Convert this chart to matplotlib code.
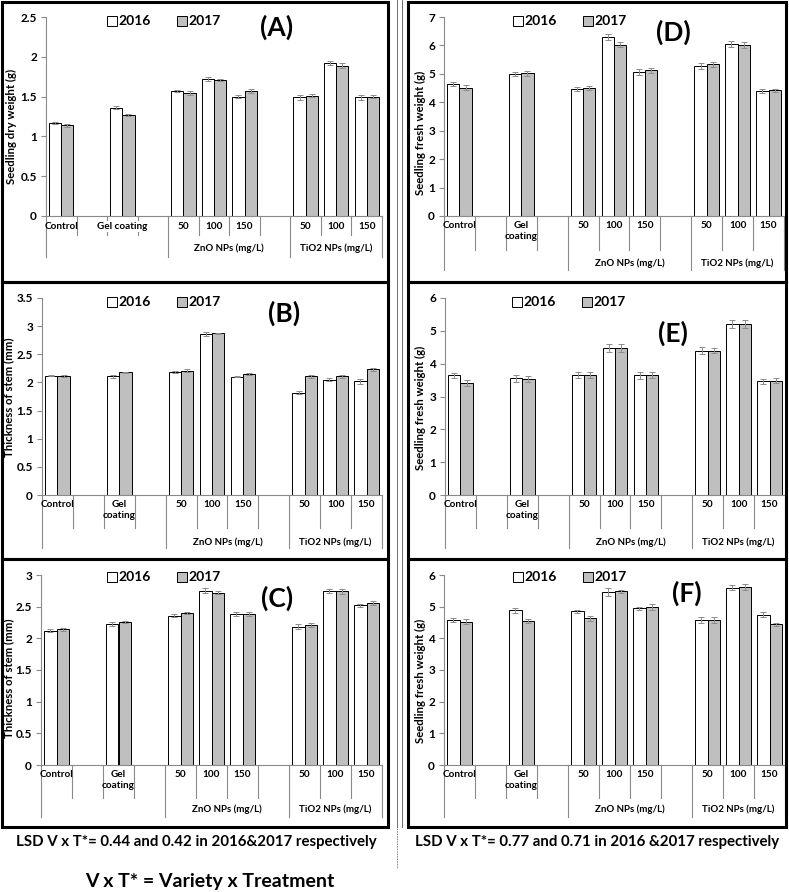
import matplotlib
matplotlib.use('Agg')
import matplotlib.pyplot as plt
from matplotlib.patches import Rectangle
from matplotlib.lines import Line2D
from matplotlib import transforms
from matplotlib.ticker import MultipleLocator, FuncFormatter

plt.rcParams['font.family'] = ['Lato', 'DejaVu Sans']

W, H = 789, 892

years = ['2016', '2017']
cats = ['Control', '', 'Gel coating', '', '50', '100', '150', '', '50', '100', '150']
groups = [('', 0, 4), ('ZnO NPs (mg/L)', 4, 8), ('TiO2 NPs (mg/L)', 8, 11)]
bar_pos = [0, 2, 4, 5, 6, 8, 9, 10]

# (A) seedling dry weight
a16 = [1.17, 1.36, 1.57, 1.72, 1.50, 1.49, 1.92, 1.49]
a17 = [1.14, 1.27, 1.55, 1.71, 1.57, 1.51, 1.89, 1.50]
a16e = [0.015, 0.02, 0.015, 0.03, 0.015, 0.03, 0.025, 0.03]
a17e = [0.02, 0.015, 0.025, 0.015, 0.02, 0.02, 0.03, 0.02]
# (B) thickness of stem
b16 = [2.12, 2.11, 2.19, 2.86, 2.10, 1.82, 2.05, 2.02]
b17 = [2.11, 2.18, 2.21, 2.87, 2.15, 2.11, 2.11, 2.23]
b16e = [0.01, 0.03, 0.02, 0.03, 0.01, 0.03, 0.03, 0.04]
b17e = [0.02, 0.01, 0.02, 0.01, 0.02, 0.03, 0.03, 0.02]
# (C) thickness of stem
c16 = [2.12, 2.23, 2.36, 2.75, 2.38, 2.18, 2.75, 2.52]
c17 = [2.14, 2.26, 2.40, 2.72, 2.38, 2.21, 2.74, 2.56]
c16e = [0.02, 0.03, 0.02, 0.04, 0.03, 0.04, 0.03, 0.03]
c17e = [0.02, 0.01, 0.02, 0.02, 0.03, 0.03, 0.04, 0.03]
# (D) seedling fresh weight
d16 = [4.65, 5.00, 4.47, 6.30, 5.07, 5.27, 6.04, 4.40]
d17 = [4.52, 5.02, 4.50, 6.03, 5.12, 5.33, 6.02, 4.42]
d16e = [0.08, 0.08, 0.08, 0.10, 0.10, 0.10, 0.10, 0.08]
d17e = [0.08, 0.08, 0.07, 0.10, 0.10, 0.08, 0.10, 0.05]
# (E) seedling fresh weight
e16 = [3.64, 3.55, 3.65, 4.47, 3.64, 4.40, 5.22, 3.46]
e17 = [3.42, 3.53, 3.65, 4.47, 3.66, 4.40, 5.22, 3.48]
e16e = [0.09, 0.10, 0.09, 0.12, 0.10, 0.10, 0.12, 0.07]
e17e = [0.09, 0.10, 0.09, 0.12, 0.10, 0.09, 0.12, 0.08]
# (F) seedling fresh weight
f16 = [4.58, 4.88, 4.86, 5.46, 4.95, 4.57, 5.60, 4.74]
f17 = [4.53, 4.55, 4.63, 5.48, 4.98, 4.58, 5.62, 4.45]
f16e = [0.05, 0.08, 0.05, 0.12, 0.05, 0.10, 0.08, 0.08]
f17e = [0.08, 0.05, 0.08, 0.05, 0.10, 0.10, 0.10, 0.05]

lsd_left = 'LSD V x T*= 0.44 and 0.42 in 2016&2017 respectively'
lsd_right = 'LSD V x T*= 0.77 and 0.71 in 2016 &2017 respectively'
footnote = 'V x T* = Variety x Treatment'


def fx(x):
    return x / W


def fy(y):
    return 1 - y / H


panels = [
    dict(letter='(A)', ylabel='Seedling dry weight (g)', ymax=2.5, step=0.5, v=(a16, a17), e=(a16e, a17e),
         box=(46, 382, 17, 216), lvl1=235, lvl2=257, caty=222, grpy=243, wrap=False,
         leg=(112, 21), lpos=(277, 27), ylab=(11, 126)),
    dict(letter='(B)', ylabel='Thickness of stem (mm)', ymax=3.5, step=0.5, v=(b16, b17), e=(b16e, b17e),
         box=(42, 382, 298, 495), lvl1=528, lvl2=548, caty=500, grpy=537, wrap=True,
         leg=(112, 302), lpos=(284, 313), ylab=(9, 397)),
    dict(letter='(C)', ylabel='Thickness of stem (mm)', ymax=3, step=0.5, v=(c16, c17), e=(c16e, c17e),
         box=(41, 382, 575, 765), lvl1=798, lvl2=817, caty=770, grpy=804, wrap=True,
         leg=(112, 577), lpos=(277, 598), ylab=(9, 678)),
    dict(letter='(D)', ylabel='Seedling fresh weight (g)', ymax=7, step=1, v=(d16, d17), e=(d16e, d17e),
         box=(444, 784, 17, 216), lvl1=250, lvl2=270, caty=221, grpy=258, wrap=True,
         leg=(518, 21), lpos=(673, 32), ylab=(420, 133)),
    dict(letter='(E)', ylabel='Seedling fresh weight (g)', ymax=6, step=1, v=(e16, e17), e=(e16e, e17e),
         box=(445, 785, 298, 495), lvl1=528, lvl2=548, caty=500, grpy=537, wrap=True,
         leg=(517, 302), lpos=(673, 333), ylab=(420, 408)),
    dict(letter='(F)', ylabel='Seedling fresh weight (g)', ymax=6, step=1, v=(f16, f17), e=(f16e, f17e),
         box=(444, 785, 575, 765), lvl1=798, lvl2=817, caty=770, grpy=804, wrap=True,
         leg=(518, 577), lpos=(687, 593), ylab=(420, 681)),
]

fig = plt.figure(figsize=(W / 100, H / 100), dpi=100)

axis_col = '#8a8a8a'
bar_cols = ['white', '#bfbfbf']

for p in panels:
    x0, x1, ytop, y0 = p['box']
    ax = fig.add_axes([fx(x0), fy(y0), (x1 - x0) / W, (y0 - ytop) / H])
    ax.set_xlim(-0.5, 10.5)
    ax.set_ylim(0, p['ymax'])
    w = 0.4
    for k in range(2):
        xs = [b + (k - 0.5) * w for b in bar_pos]
        ax.bar(xs, p['v'][k], w, color=bar_cols[k], edgecolor='black', lw=0.7, zorder=2)
        ax.errorbar(xs, p['v'][k], yerr=p['e'][k], fmt='none', ecolor='#8c8c8c',
                    elinewidth=0.7, capsize=2, capthick=0.7, zorder=3)
    for s in ['top', 'right']:
        ax.spines[s].set_visible(False)
    for s in ['left', 'bottom']:
        ax.spines[s].set_color(axis_col)
        ax.spines[s].set_linewidth(0.8)
    ax.set_xticks([])
    ax.yaxis.set_major_locator(MultipleLocator(p['step']))
    ax.yaxis.set_major_formatter(FuncFormatter(lambda v, _: f'{v:g}'))
    ax.tick_params(axis='y', length=3.5, width=0.8, color=axis_col, labelsize=8.5, pad=3)
    for lab in ax.get_yticklabels():
        lab.set_fontweight('bold')

    # multi-level category axis
    trans = transforms.blended_transform_factory(ax.transData, fig.transFigure)
    bounds = [g[1] - 0.5 for g in groups] + [10.5]
    for i in range(12):
        xb = i - 0.5
        ybot = p['lvl2'] if xb in bounds else p['lvl1']
        ax.add_line(Line2D([xb, xb], [fy(y0), fy(ybot)], transform=trans,
                           color=axis_col, lw=0.8, clip_on=False))
    for i, c in enumerate(cats):
        if not c:
            continue
        label = c.replace(' ', '\n') if p['wrap'] else c
        t = ax.text(i, fy(p['caty']), label, transform=trans, ha='center', va='top',
                    fontsize=7.2, fontweight='bold', linespacing=1.25)
        if not p['wrap'] and ' ' in c:
            t.set_bbox(dict(fc='white', ec='none', pad=0.5))
    for name, s, e in groups:
        if name:
            ax.text((s + e - 1) / 2, fy(p['grpy']), name, transform=trans, ha='center',
                    va='top', fontsize=7, fontweight='bold')

    # y label
    fig.text(fx(p['ylab'][0]), fy(p['ylab'][1]), p['ylabel'], rotation=90, ha='center',
             va='center', fontsize=8.2, fontweight='bold')

    # legend
    lx, ly = p['leg']
    for k in range(2):
        sx = lx + k * 70
        fig.add_artist(Rectangle((fx(sx - 5), fy(ly + 5)), 10 / W, 10 / H, transform=fig.transFigure,
                                 fc=bar_cols[k], ec='black', lw=0.7))
        fig.text(fx(sx + 6), fy(ly), years[k], ha='left', va='center', fontsize=10, fontweight='bold')

    # panel letter
    fig.text(fx(p['lpos'][0]), fy(p['lpos'][1]), p['letter'], ha='center', va='center',
             fontsize=19, fontweight='bold')

# panel frames
for (bx0, bx1) in [(2, 388), (408, 786)]:
    for (by0, by1) in [(2, 282), (282, 559), (559, 827)]:
        fig.add_artist(Rectangle((fx(bx0), fy(by1)), (bx1 - bx0) / W, (by1 - by0) / H,
                                 transform=fig.transFigure, fill=False, ec='black', lw=2.2))

# separators between columns
fig.add_artist(Line2D([fx(397), fx(397)], [fy(0), fy(827)], transform=fig.transFigure, color='#555555', lw=0.6))
fig.add_artist(Line2D([fx(402), fx(402)], [fy(0), fy(827)], transform=fig.transFigure, color='#555555', lw=0.6))
fig.add_artist(Line2D([fx(397), fx(397)], [fy(827), fy(868)], transform=fig.transFigure, color='#555555',
                      lw=0.6, ls=(0, (1, 1))))

fig.text(fx(196), fy(842), lsd_left, ha='center', va='center', fontsize=10.8, fontweight='bold')
fig.text(fx(597), fy(842), lsd_right, ha='center', va='center', fontsize=10.8, fontweight='bold')
fig.text(fx(210), fy(882), footnote, ha='center', va='center', fontsize=14, fontweight='bold')

fig.savefig('out.png', dpi=100)
